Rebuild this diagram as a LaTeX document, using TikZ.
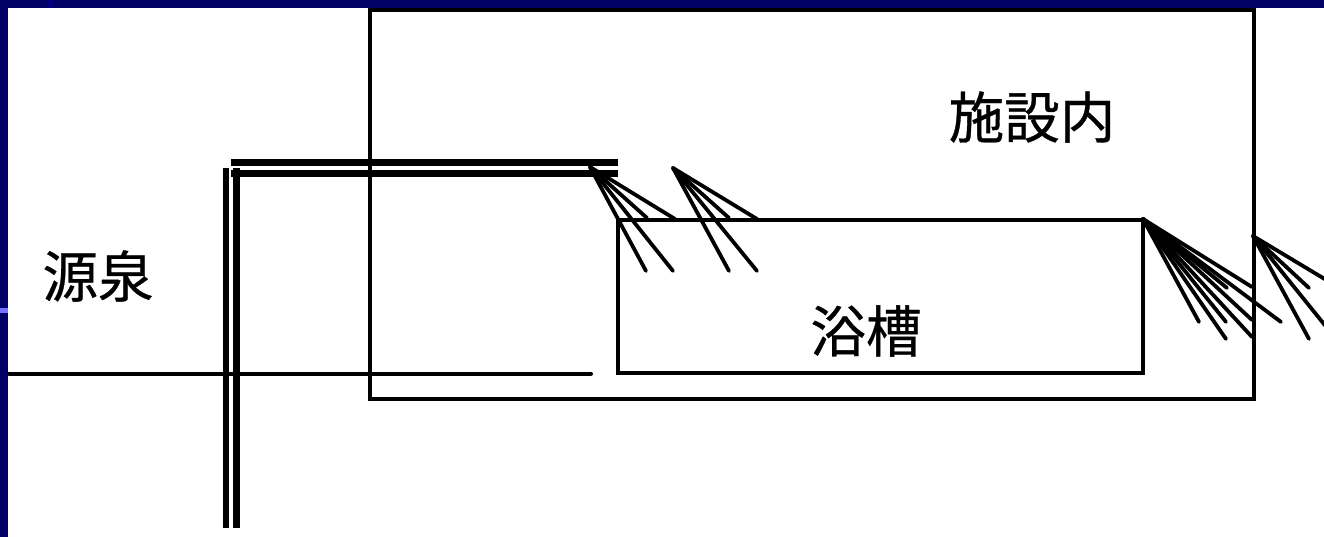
\documentclass[tikz,border=0pt]{standalone}
\usepackage{fontspec}
\setmainfont[FakeBold=0.6]{Noto Sans CJK JP}
\definecolor{framenavy}{RGB}{0,0,102}
\tikzstyle{frame} = [fill=framenavy]
\tikzstyle{room} = [draw, line width=4pt]
\tikzstyle{ground} = [draw, line width=4pt, line cap=round]
\tikzstyle{pipe} = [draw, line width=6.6pt]
\tikzstyle{spray} = [draw, line width=3.8pt, line cap=round]
\tikzstyle{word} = [inner sep=0pt, font=\fontsize{55.5}{55.5}\selectfont]

\begin{document}
\begin{tikzpicture}[x=1pt, y=-1pt]
\clip (0,0) rectangle (1324,537);
\fill [white] (0,0) rectangle (1324,537);
\path [frame] (0,0) rectangle (1324,8);
\path [frame] (0,0) rectangle (8,537);
\fill [blue!55!white] (0,308) rectangle (8,313);
\fill [blue!50!black] (48,0) rectangle (53,8);

\node [word] (facility) at (1032,117) {施設内};
\node [word] (source) at (98,276) {源泉};
\node [word] (bath) at (866,331) {浴槽};

% rooms
\path [room] (370,10) rectangle (1254,399);
\path [room] (618,220) rectangle (1143,373);
\path [ground] (9,373.5) to (591,373.5);

% pipes
\coordinate (pipe1a) at (231,162.5);
\coordinate (pipe1b) at (618,162.5);
\coordinate (pipe2a) at (231,173.7);
\coordinate (pipe2b) at (618,173.7);
\coordinate (pipe3a) at (226,168);
\coordinate (pipe3b) at (226,528);
\coordinate (pipe4a) at (236.5,168);
\coordinate (pipe4b) at (236.5,528);
\path [pipe] (pipe1a) to (pipe1b);
\path [pipe] (pipe2a) to (pipe2b);
\path [pipe] (pipe3a) to (pipe3b);
\path [pipe] (pipe4a) to (pipe4b);

% first shower
\coordinate (jet1) at (590,167);
\path [spray] (jet1) to (646,271);
\path [spray] (jet1) to (673,271);
\path [spray] (jet1) to (675,219);
\path [spray] (jet1) to (647,218);

% second shower
\coordinate (jet2) at (673,168);
\path [spray] (jet2) to (729,271);
\path [spray] (jet2) to (757,271);
\path [spray] (jet2) to (757,219);
\path [spray] (jet2) to (729,218);

% overflow at the bath
\coordinate (jet3) at (1143,219);
\path [spray] (jet3) to (1199,322);
\path [spray] (jet3) to (1226,322);
\path [spray] (jet3) to (1227,288);
\path [spray] (jet3) to (1281,322);
\path [spray] (jet3) to (1252,287);
\path [spray] (jet3) to (1252,320);
\path [spray] (jet3) to (1252,337);
\path [spray] (jet3) to (1226,339);

% overflow at the wall
\coordinate (jet4) at (1253,236);
\path [spray] (jet4) to (1309,339);
\path [spray] (jet4) to (1309,288);
\path [spray] (jet4) to (1338,287);
\path [spray] (jet4) to (1336,339);
\end{tikzpicture}
\end{document}
